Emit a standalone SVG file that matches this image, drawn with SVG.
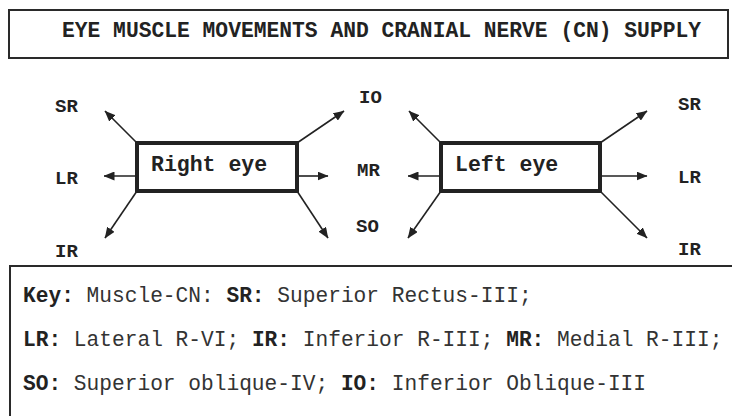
<svg xmlns="http://www.w3.org/2000/svg" width="732" height="416" viewBox="0 0 732 416">
  <style>
    .frame { fill: #ffffff; stroke: #2a2a2a; stroke-width: 2; }
    .eye { fill: #ffffff; stroke: #222222; stroke-width: 4; }
    .title { font-family: "Liberation Mono", "Courier New", monospace; font-weight: bold; font-size: 21.3px; fill: #222222; }
    .eyelabel { font-family: "Liberation Mono", "Courier New", monospace; font-weight: bold; font-size: 21.5px; fill: #222222; }
    .muscle { font-family: "Liberation Mono", "Courier New", monospace; font-weight: bold; font-size: 19px; fill: #222222; }
    .key { font-family: "Liberation Mono", "Courier New", monospace; font-size: 21.2px; fill: #333333; }
    .key .b { font-weight: bold; fill: #222222; }
    .conn line { stroke: #222222; stroke-width: 1.6; marker-end: url(#arrow); }
  </style>
  <defs>
    <marker id="arrow" viewBox="0 0 11 9" refX="10.5" refY="4.5" markerWidth="11" markerHeight="9" markerUnits="userSpaceOnUse" orient="auto">
      <path d="M0,0 L11,4.5 L0,9 Z" fill="#222222"/>
    </marker>
  </defs>

  <rect width="732" height="416" fill="#ffffff"/>

  <!-- heading -->
  <g id="title">
    <rect class="frame" x="9" y="10" width="719" height="48"/>
    <text class="title" x="62" y="37">EYE MUSCLE MOVEMENTS AND CRANIAL NERVE (CN) SUPPLY</text>
  </g>

  <!-- eye nodes -->
  <g id="right-eye">
    <rect class="eye" x="137" y="143" width="160" height="48"/>
    <text class="eyelabel" x="151" y="171">Right eye</text>
  </g>
  <g id="left-eye">
    <rect class="eye" x="441" y="143" width="159" height="48"/>
    <text class="eyelabel" x="455" y="171">Left eye</text>
  </g>

  <!-- muscle labels -->
  <g id="right-eye-muscles" class="muscle">
    <text x="55" y="112">SR</text>
    <text x="55" y="184">LR</text>
    <text x="55" y="257">IR</text>
    <text x="359" y="103">IO</text>
    <text x="357" y="176">MR</text>
    <text x="356" y="232">SO</text>
  </g>
  <g id="left-eye-muscles" class="muscle">
    <text x="678" y="110">SR</text>
    <text x="678" y="183">LR</text>
    <text x="678" y="255">IR</text>
  </g>

  <!-- movement arrows -->
  <g id="connectors" class="conn">
    <line x1="137" y1="143" x2="105" y2="111"/>
    <line x1="137" y1="176" x2="104" y2="176"/>
    <line x1="137" y1="191" x2="105" y2="238"/>
    <line x1="297" y1="143" x2="344" y2="111"/>
    <line x1="297" y1="176" x2="328" y2="176"/>
    <line x1="297" y1="191" x2="328" y2="238"/>
    <line x1="441" y1="143" x2="409" y2="111"/>
    <line x1="441" y1="176" x2="408" y2="176"/>
    <line x1="441" y1="191" x2="408" y2="238"/>
    <line x1="600" y1="143" x2="647" y2="111"/>
    <line x1="600" y1="176" x2="647" y2="176"/>
    <line x1="600" y1="191" x2="647" y2="238"/>
  </g>

  <!-- key panel -->
  <g id="key">
    <path d="M10,416 V266 H732" fill="none" stroke="#2a2a2a" stroke-width="2"/>
    <text class="key" x="23" y="302"><tspan class="b">Key:</tspan> Muscle-CN: <tspan class="b">SR:</tspan> Superior Rectus-III;</text>
    <text class="key" x="23" y="346"><tspan class="b">LR:</tspan> Lateral R-VI; <tspan class="b">IR:</tspan> Inferior R-III; <tspan class="b">MR:</tspan> Medial R-III;</text>
    <text class="key" x="23" y="390"><tspan class="b">SO:</tspan> Superior oblique-IV; <tspan class="b">IO:</tspan> Inferior Oblique-III</text>
  </g>
</svg>
